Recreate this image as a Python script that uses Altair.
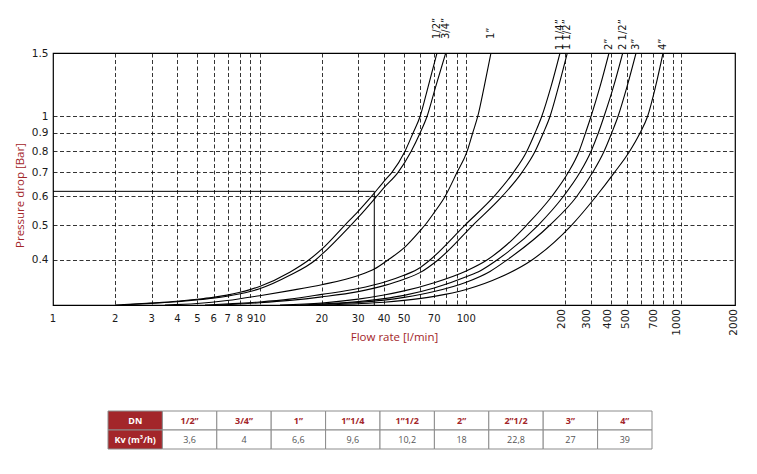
import altair as alt
import pandas as pd

# ---------------- data ----------------
dn_names = ["1/2”", "3/4”", "1”", "1 1/4”", "1 1/2”", "2”", "2 1/2”", "3”", "4”"]

flow_12 = [2.0, 2.98, 3.98, 4.98, 5.95, 6.96, 7.95, 8.99, 10, 14.0, 17.3, 20, 25.9, 30, 34.8, 40, 43.7, 50.5, 55.3, 59.8, 65.3, 72.2]
dp_12 = [0.300, 0.3038, 0.3072, 0.3111, 0.315, 0.3196, 0.3248, 0.331, 0.3378, 0.370, 0.40, 0.4285, 0.50, 0.5455, 0.60, 0.661, 0.70, 0.80, 0.90, 1.00, 1.205, 1.50]

flow_34 = [2.16, 2.98, 3.98, 4.98, 5.95, 6.96, 7.95, 8.99, 10, 14.0, 18.65, 20, 27.7, 30, 36.8, 40, 46.8, 54.1, 59.8, 64.6, 71.0, 79.6]
dp_34 = [0.300, 0.3032, 0.3062, 0.3099, 0.3134, 0.3174, 0.3218, 0.327, 0.333, 0.3628, 0.40, 0.4144, 0.50, 0.5249, 0.60, 0.6347, 0.70, 0.80, 0.90, 1.00, 1.205, 1.50]

flow_1 = [3.48, 4.98, 6.96, 10, 14.0, 20, 30.1, 35.9, 41.8, 50, 60, 63.2, 70, 79, 90.3, 101, 107.5, 113.7, 122, 131.8]
dp_1 = [0.300, 0.3028, 0.3086, 0.3184, 0.3289, 0.3415, 0.3622, 0.3774, 0.40, 0.432, 0.4831, 0.50, 0.5415, 0.60, 0.70, 0.80, 0.90, 1.00, 1.205, 1.50]

flow_114 = [5.44, 7.95, 10, 14.0, 20, 30, 40, 50, 60, 66.8, 98.7, 136.3, 169.4, 196.3, 215.3, 232, 257.3, 284.4]
dp_114 = [0.300, 0.3032, 0.3059, 0.3115, 0.321, 0.3332, 0.347, 0.3626, 0.3812, 0.40, 0.50, 0.60, 0.70, 0.80, 0.90, 1.00, 1.21, 1.50]

flow_112 = [6.43, 10, 14.0, 20, 30, 40, 50, 60, 73.0, 107.9, 149.1, 186.2, 215.3, 236.2, 254.4, 279.8, 308.6]
dp_112 = [0.300, 0.3044, 0.309, 0.316, 0.3268, 0.3395, 0.3536, 0.3695, 0.40, 0.50, 0.60, 0.70, 0.80, 0.90, 1.00, 1.21, 1.50]

flow_2 = [12.55, 20, 30, 40, 50, 70, 100, 126.1, 157.6, 196.3, 259.3, 312.1, 351.6, 377.9, 401.8, 444.2, 491.1]
dp_2 = [0.300, 0.304, 0.3115, 0.3198, 0.3283, 0.346, 0.373, 0.40, 0.4414, 0.50, 0.60, 0.70, 0.80, 0.90, 1.00, 1.21, 1.50]

flow_212 = [15.7, 20, 30, 40, 50, 70, 100, 116.6, 141, 223.4, 295.1, 355.5, 401.8, 435.9, 464.5, 516.4, 572.2]
dp_212 = [0.300, 0.3021, 0.3066, 0.3124, 0.319, 0.3343, 0.3592, 0.373, 0.40, 0.50, 0.60, 0.70, 0.80, 0.90, 1.00, 1.21, 1.50]

flow_3 = [17.5, 20, 30, 40, 50, 70, 100, 130.4, 157.6, 254.4, 342.7, 409.5, 464.5, 506.0, 542.9, 600.3, 663.7]
dp_3 = [0.300, 0.3013, 0.3048, 0.3095, 0.315, 0.327, 0.347, 0.3718, 0.40, 0.50, 0.60, 0.70, 0.80, 0.90, 1.00, 1.21, 1.50]

flow_4 = [20, 30, 40, 50, 70, 100, 145.7, 208.2, 324.1, 424.9, 522.2, 617.2, 693.8, 754.5, 824.8, 896.8]
dp_4 = [0.300, 0.3025, 0.3053, 0.309, 0.317, 0.3312, 0.358, 0.40, 0.50, 0.60, 0.70, 0.80, 0.90, 1.00, 1.21, 1.50]

# example reading drawn on the chart
ref_flow = 35.9
ref_dp = 0.62

# axis grid / tick labels
x_grid = [2, 3, 4, 5, 6, 7, 8, 9, 10, 20, 30, 40, 50, 60, 70, 80, 90, 100,
          300, 400, 500, 600, 700, 800, 900, 1000, 1090]
xlab_vals = [1, 2, 3, 4, 5, 6, 7, 8, 9, 10, 20, 30, 40, 50, 70, 100]
xlab_text = ["1", "2", "3", "4", "5", "6", "7", "8", "9", "10", "20", "30", "40", "50", "70", "100"]
xlab2_vals = [291, 384, 484, 592, 811, 1048, 1978]
xlab2_text = ["200", "300", "400", "500", "700", "1000", "2000"]
y_ticks = [0.4, 0.5, 0.6, 0.7, 0.8, 0.9, 1.0, 1.5]

# table
table_dn = ["1/2”", "3/4”", "1”", "1”1/4", "1”1/2", "2”", "2”1/2", "3”", "4”"]
table_kv = [3.6, 4, 6.6, 9.6, 10.2, 18, 22.8, 27, 39]

# ---------------- build ----------------
W, H = 682, 252
RED = "#a3262a"

series = [flow_12, flow_34, flow_1, flow_114, flow_112, flow_2, flow_212, flow_3, flow_4]
dps = [dp_12, dp_34, dp_1, dp_114, dp_112, dp_2, dp_212, dp_3, dp_4]
rows = []
for name, fl, dp in zip(dn_names, series, dps):
    for i, (f, d) in enumerate(zip(fl, dp)):
        rows.append({"name": name, "flow": f, "dp": d, "i": i})
curve_df = pd.DataFrame(rows)

xscale = alt.Scale(type="log", domain=[1, 2000], nice=False)
yscale = alt.Scale(type="log", domain=[0.3, 1.5], nice=False)
xaxis = alt.Axis(values=x_grid, grid=True, labels=False, ticks=False, domain=False,
                 gridColor="#000000", gridDash=[4, 2.5], gridWidth=0.8,
                 title="Flow rate [l/min]", titleColor=RED, titleFont="Open Sans",
                 titleFontSize=11.5, titleFontWeight="normal", titlePadding=26)
yaxis = alt.Axis(values=y_ticks, grid=True, ticks=False, domain=False, format="~g",
                 gridColor="#000000", gridDash=[4, 2.5], gridWidth=0.8,
                 labelFont="DejaVu Sans", labelFontSize=10.5, labelColor="#1a1a1a",
                 labelPadding=5, minExtent=0,
                 title="Pressure drop [Bar]", titleColor=RED, titleFont="Open Sans",
                 titleFontSize=11.5, titleFontWeight="normal", titlePadding=6, titleY=142)


def X(field="flow"):
    return alt.X(field, type="quantitative", scale=xscale, axis=xaxis)


def Y(field="dp"):
    return alt.Y(field, type="quantitative", scale=yscale, axis=yaxis)


curves = alt.Chart(curve_df).mark_line(color="black", strokeWidth=1.1,
                                       interpolate="monotone", clip=True).encode(
    x=X(), y=Y(), detail="name:N", order="i:Q")

ref_df = pd.DataFrame({"flow0": [1], "flow": [ref_flow], "dp": [ref_dp], "dp0": [0.3]})
ref_h = alt.Chart(ref_df).mark_rule(color="black", strokeWidth=1).encode(
    x=X("flow0"), x2="flow", y=Y())
ref_v = alt.Chart(ref_df).mark_rule(color="black", strokeWidth=1).encode(
    x=X(), y=Y("dp0"), y2="dp")

lab_df = pd.DataFrame({"name": dn_names, "flow": [s[-1] for s in series]})
lab_a = alt.Chart(lab_df).transform_filter(
    alt.FieldOneOfPredicate(field="name", oneOf=dn_names[:3])
).mark_text(angle=270, align="left", baseline="middle", font="DejaVu Sans",
            fontSize=10, color="#111111").encode(x=X(), y=alt.value(-14), text="name:N")
lab_b = alt.Chart(lab_df).transform_filter(
    ~alt.FieldOneOfPredicate(field="name", oneOf=dn_names[:3])
).mark_text(angle=270, align="left", baseline="middle", font="DejaVu Sans",
            fontSize=10, color="#111111").encode(x=X(), y=alt.value(-3), text="name:N")

xt_df = pd.DataFrame({"flow": xlab_vals, "text": xlab_text})
xt = alt.Chart(xt_df).mark_text(baseline="top", align="center", font="DejaVu Sans",
                                fontSize=10, color="#1a1a1a").encode(
    x=X(), y=alt.value(H + 9), text="text:N")
xt2_df = pd.DataFrame({"flow": xlab2_vals, "text": xlab2_text})
xt2 = alt.Chart(xt2_df).mark_text(angle=270, align="right", baseline="middle",
                                  font="DejaVu Sans", fontSize=10.5, color="#1a1a1a").encode(
    x=X(), y=alt.value(H + 4), text="text:N")

plot = alt.layer(curves, ref_h, ref_v, lab_a, lab_b, xt, xt2)

# table (own scales, drawn below the plot)
trows = []
head = ["DN"] + table_dn
kvrow = ["Kv (m³/h)"] + [f"{v:g}".replace(".", ",") for v in table_kv]
for c in range(10):
    trows.append({"col": c, "row": "a", "text": head[c], "kind": "head" if c == 0 else "dn"})
    trows.append({"col": c, "row": "b", "text": kvrow[c], "kind": "head" if c == 0 else "kv"})
tdf = pd.DataFrame(trows)

tx = alt.X("col:O", axis=None, scale=alt.Scale(paddingInner=0, paddingOuter=0, range=[55, 599]))
ty = alt.Y("row:O", axis=None, scale=alt.Scale(paddingInner=0, paddingOuter=0, range=[358, 396]))
cells = alt.Chart(tdf).mark_rect(stroke="#8c8c8c", strokeWidth=1).encode(
    x=tx, y=ty,
    fill=alt.Fill("kind:N", scale=alt.Scale(domain=["head", "dn", "kv"],
                                            range=[RED, "#ffffff", "#ffffff"]), legend=None))
tbold = alt.Chart(tdf).transform_filter(alt.datum.kind != "kv").mark_text(
    font="Open Sans", fontSize=9, fontWeight="bold").encode(
    x=tx, y=ty, text="text:N",
    color=alt.Color("kind:N", scale=alt.Scale(domain=["head", "dn"], range=["#ffffff", RED]),
                    legend=None))
tnorm = alt.Chart(tdf).transform_filter(alt.datum.kind == "kv").mark_text(
    font="Open Sans", fontSize=9, color="#555555").encode(x=tx, y=ty, text="text:N")
table = alt.layer(cells, tbold, tnorm)

chart = alt.layer(plot, table).resolve_scale(
    x="independent", y="independent", color="independent", fill="independent"
).properties(
    width=W, height=H,
    view=alt.ViewBackground(stroke="black", strokeWidth=1.2),
    padding={"left": 6, "top": 9, "right": 5, "bottom": 5},
    background="white")

chart.save("out.html", embed_options={"renderer": "svg", "actions": False})
